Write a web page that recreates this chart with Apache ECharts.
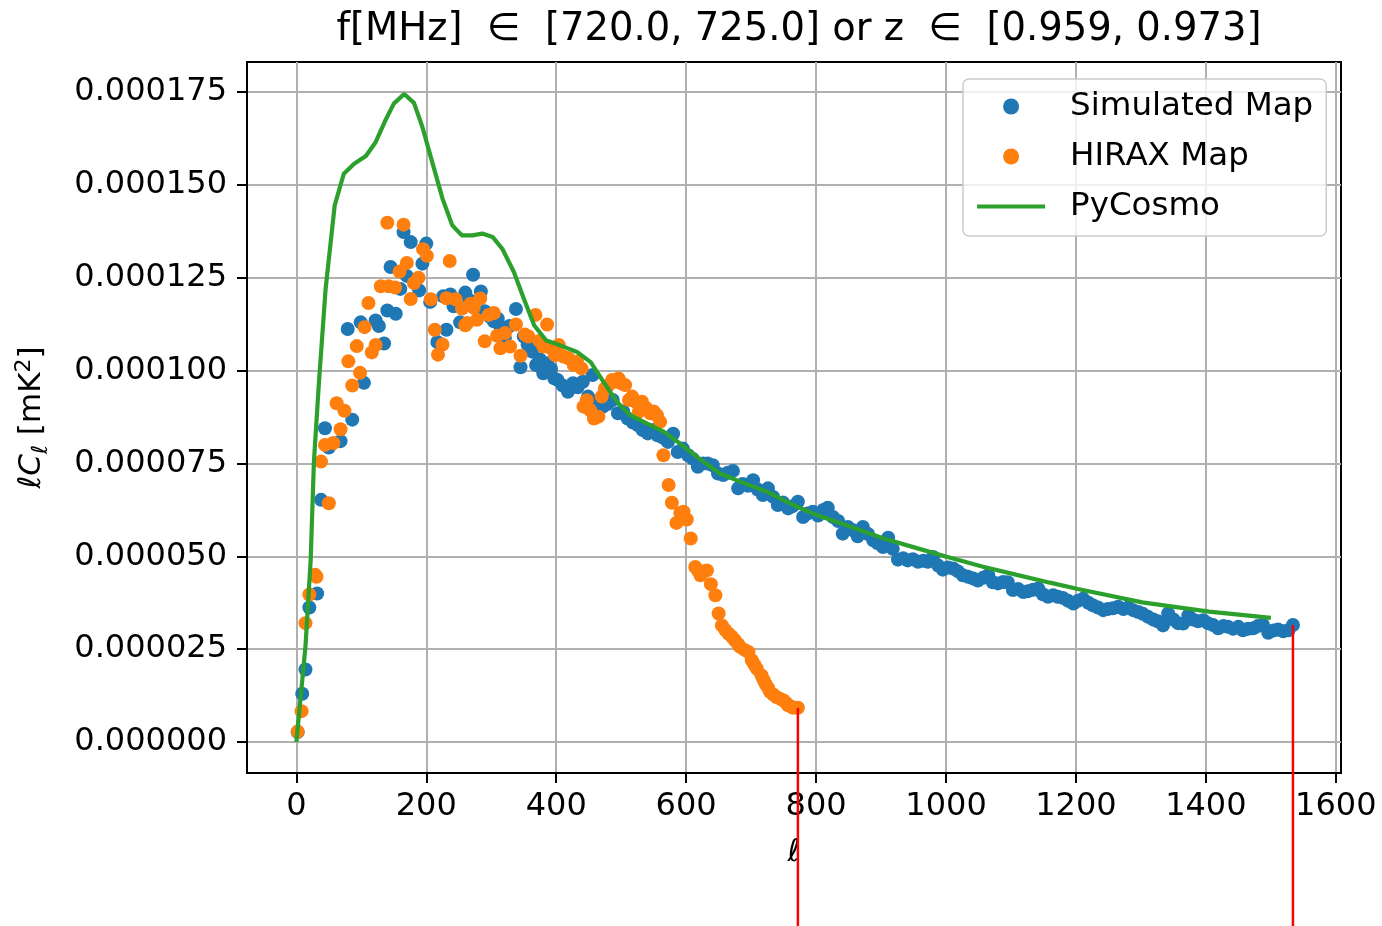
<!DOCTYPE html>
<html>
<head>
<meta charset="utf-8">
<script src="https://cdn.jsdelivr.net/npm/echarts@6/dist/echarts.min.js"></script>
<style>
html, body { margin: 0; padding: 0; background: #fff; }
#main { width: 1382px; height: 926px; }
</style>
</head>
<body>
<div id="main"></div>
<script>
// tick marks (y in units of 1e-5 mK^2)
var xTicks = [0, 200, 400, 600, 800, 1000, 1200, 1400, 1600];
var yTicks = [0, 2.5, 5, 7.5, 10, 12.5, 15, 17.5];

// [ell, ell*C_ell / 1e-5]
var simulatedMap = [
    [2,0.27],[9,1.3],[14,1.95],[20,3.62],[32,4.0],[38,6.52],[44,8.45],[50,7.93],[68,8.1],[79,11.12],
    [86,8.68],[99,11.3],[104,9.67],[122,11.35],[127,11.2],[135,10.73],[140,11.62],[145,12.79],[153,11.53],[160,12.2],
    [165,13.73],[170,12.55],[176,13.46],[189,12.16],[194,12.88],[200,13.42],[206,11.85],[217,10.77],[226,12.0],[231,11.1],
    [237,12.05],[242,11.73],[252,11.3],[260,12.1],[266,11.9],[272,12.58],[284,12.13],[290,11.6],[298,11.45],[304,11.33],
    [310,11.4],[314,11.19],[321,10.88],[328,11.2],[338,11.66],[345,10.09],[350,10.92],[356,10.7],[363,10.51],[369,10.15],
    [375,10.3],[380,9.93],[386,10.2],[392,10.05],[397,9.79],
    [402,9.75],[410,9.6],[418,9.43],[426,9.66],[433,9.55],[441,9.7],[449,9.3],[456,9.88],[464,9.16],[472,9.03],
    [479,9.1],[487,9.21],[495,8.85],[503,8.9],[510,8.71],[518,8.6],[526,8.53],[533,8.4],[541,8.31],[549,8.4],
    [556,8.26],[564,8.2],[572,8.08],[580,8.3],[587,7.81],[595,7.9],[603,7.72],[610,7.63],[618,7.41],[626,7.5],
    [633,7.5],[641,7.45],[649,7.23],[657,7.19],[664,7.25],[672,7.3],[680,6.83],[687,6.95],[695,6.9],[703,7.05],
    [710,6.8],[718,6.65],[726,6.83],[734,6.6],[741,6.38],[749,6.45],[757,6.29],[764,6.35],[772,6.47],[780,6.06],
    [787,6.15],[795,6.2],[803,6.1],[811,6.25],[818,6.31],[826,6.06],[834,5.95],[841,5.61],[849,5.79],[857,5.7],
    [864,5.54],[872,5.79],[880,5.6],[888,5.43],[895,5.35],[903,5.25],[911,5.5],[918,5.2],[926,4.91],[934,4.95],
    [941,4.89],[949,4.92],[957,4.85],[965,4.88],[972,4.85],[980,4.98],[988,4.75],[995,4.64],[1003,4.7],[1011,4.67],
    [1018,4.6],[1026,4.49],[1034,4.45],[1042,4.4],[1049,4.35],[1057,4.42],[1065,4.49],[1072,4.3],[1080,4.27],[1088,4.31],
    [1095,4.3],[1103,4.09],[1111,4.12],[1119,4.04],[1126,4.06],[1134,4.1],[1142,4.13],[1149,3.98],[1157,3.91],[1165,3.95],
    [1172,3.91],[1180,3.88],[1188,3.8],[1196,3.73],[1203,3.8],[1211,3.86],[1219,3.75],[1226,3.68],[1234,3.62],[1242,3.55],
    [1249,3.58],[1257,3.6],[1265,3.64],[1273,3.58],[1280,3.62],[1288,3.55],[1296,3.5],[1303,3.45],[1311,3.37],[1319,3.3],
    [1326,3.25],[1334,3.14],[1342,3.46],[1350,3.3],[1357,3.2],[1365,3.19],[1373,3.41],[1380,3.3],[1388,3.25],[1396,3.28],
    [1403,3.2],[1411,3.15],[1419,3.06],[1427,3.12],[1434,3.1],[1442,3.05],[1450,3.1],[1457,3.01],[1465,3.05],[1473,3.06],
    [1480,3.12],[1488,3.15],[1496,2.94],[1504,3.0],[1511,3.03],[1519,2.98],[1527,3.01],[1534,3.15]
];

var hiraxMap = [
    [2,0.28],[8,0.83],[14,3.2],[20,3.97],[29,4.5],[31,4.45],[38,7.55],[44,8.0],[50,6.43],[57,8.05],
    [62,9.12],[68,8.42],[74,8.92],[80,10.25],[86,9.6],[93,10.66],[98,9.94],[105,11.17],[111,11.82],[116,10.49],
    [122,10.69],[130,12.27],[140,13.98],[142,12.27],[152,12.24],[159,12.67],[165,13.93],[170,12.9],[176,11.93],[181,12.36],
    [188,12.5],[195,13.27],[201,13.09],[207,11.92],[213,11.1],[218,10.43],[225,10.7],[231,11.95],[236,12.95],[245,11.92],
    [255,11.67],[260,11.22],[263,11.28],[268,11.8],[273,11.69],[278,11.37],[283,11.94],[290,10.79],[296,11.5],[304,11.55],
    [309,10.94],[314,10.6],[321,11.01],[329,10.65],[338,11.24],[345,10.4],[352,10.97],[357,10.92],[368,11.5],[374,10.8],
    [380,10.65],[386,11.24],[392,10.6],[398,10.42],[404,10.69],[411,10.38],[419,10.33],[427,10.15],[432,10.24],[439,10.06],
    [442,9.03],[447,9.2],[452,8.94],[458,8.71],[465,8.76],[470,9.3],[475,9.52],[480,9.6],[486,9.75],[491,9.7],
    [496,9.79],[501,9.65],[506,9.61],[512,9.21],[517,9.3],[522,9.16],[527,8.89],[532,9.16],[538,9.0],[545,8.85],
    [550,8.9],[555,8.8],[560,8.62],[565,7.72],[573,6.92],[578,6.44],[585,5.9],[591,6.17],[596,6.2],[601,5.99],
    [607,5.48],[614,4.71],[618,4.62],[622,4.49],[628,4.6],[632,4.62],[638,4.25],[645,3.95],[650,3.46],[655,3.14],
    [660,3.02],[665,2.92],[670,2.84],[675,2.74],[680,2.63],[683,2.56],[690,2.48],[696,2.42],[701,2.2],[705,2.08],
    [709,1.97],[716,1.79],[719,1.68],[722,1.57],[726,1.46],[729,1.35],[734,1.28],[739,1.21],[745,1.16],[750,1.12],
    [754,1.05],[757,0.99],[762,0.95],[765,0.92],[772,0.92]
];

var pyCosmo = [
    [0,0],[14,2.57],[22,4.9],[27,7.54],[35,9.75],[45,12.2],[59,14.45],[73,15.3],[89,15.57],[107,15.78],
    [122,16.15],[136,16.7],[150,17.19],[166,17.45],[181,17.21],[194,16.56],[209,15.62],[225,14.63],[240,13.91],[255,13.64],
    [271,13.64],[286,13.69],[302,13.6],[317,13.28],[335,12.65],[350,11.94],[366,11.22],[384,10.82],[412,10.64],[432,10.5],
    [453,10.23],[473,9.69],[494,9.15],[514,8.8],[540,8.57],[566,8.35],[591,8.03],[617,7.67],[652,7.23],[683,7.01],
    [724,6.74],[765,6.38],[801,6.11],[852,5.8],[904,5.48],[955,5.22],[1001,4.99],[1057,4.72],[1109,4.5],[1160,4.29],
    [1203,4.12],[1302,3.76],[1405,3.51],[1500,3.34]
];

// red markers drop from the last point of each map down past the axis
var dropTo = -5.4;
var hiraxEnd = hiraxMap[hiraxMap.length - 1];
var simEnd = simulatedMap[simulatedMap.length - 1];

var FONT = 'DejaVu Sans';
var chart = echarts.init(document.getElementById('main'));

var option = {
    animation: false,
    backgroundColor: '#fff',
    title: {
        text: 'f[MHz]  \u2208  [720.0, 725.0] or z  \u2208  [0.959, 0.973]',
        left: 794,
        textAlign: 'center',
        top: 5,
        textStyle: { fontFamily: FONT, fontSize: 38.5, fontWeight: 'normal', color: '#000' }
    },
    grid: {
        left: 247, top: 62, right: 41, bottom: 153,
        show: true, borderColor: '#000', borderWidth: 2, backgroundColor: 'transparent'
    },
    legend: {
        orient: 'vertical',
        left: 963, top: 79,
        padding: [11, 13, 13, 12],
        itemWidth: 68, itemHeight: 16, itemGap: 17,
        borderColor: '#cccccc', borderWidth: 1.5, borderRadius: 6,
        backgroundColor: 'rgba(255,255,255,0.8)',
        data: [
            'Simulated Map',
            'HIRAX Map',
            { name: 'PyCosmo', itemStyle: { opacity: 0 }, lineStyle: { width: 4.2, color: '#2ca02c' } }
        ],
        textStyle: { fontFamily: FONT, fontSize: 32.5, color: '#000', lineHeight: 32, padding: [0, 0, 0, 20] }
    },
    xAxis: {
        type: 'value',
        min: -76, max: 1608,
        name: '\u2113',
        nameLocation: 'middle',
        nameGap: 64,
        nameTextStyle: { fontFamily: FONT, fontSize: 31, fontStyle: 'italic', color: '#000' },
        axisLine: { show: true, onZero: false, lineStyle: { color: '#000', width: 2 } },
        axisTick: { show: true, length: 10, customValues: xTicks, lineStyle: { color: '#000', width: 2 } },
        axisLabel: {
            customValues: xTicks, margin: 18, fontFamily: FONT, fontSize: 32, color: '#000',
            formatter: function (v) { return String(v); }
        },
        splitLine: { show: true, lineStyle: { color: '#b0b0b0', width: 2 } }
    },
    yAxis: {
        type: 'value',
        min: -0.835, max: 18.31,
        name: '{i|\u2113C}{sub|\u2113}{n| [mK}{sup|2}{n|]}',
        nameLocation: 'middle',
        nameRotate: 90,
        nameGap: 193,
        nameTextStyle: {
            fontFamily: FONT, fontSize: 31, color: '#000',
            rich: {
                i: { fontFamily: FONT, fontSize: 31, fontStyle: 'italic', lineHeight: 44, verticalAlign: 'middle' },
                sub: { fontFamily: FONT, fontSize: 22, fontStyle: 'italic', lineHeight: 44, verticalAlign: 'bottom', padding: [0, 0, 2, 0] },
                n: { fontFamily: FONT, fontSize: 31, lineHeight: 44, verticalAlign: 'middle' },
                sup: { fontFamily: FONT, fontSize: 22, lineHeight: 44, verticalAlign: 'top', padding: [3, 0, 0, 0] }
            }
        },
        axisLine: { show: true, onZero: false, lineStyle: { color: '#000', width: 2 } },
        axisTick: { show: true, length: 10, customValues: yTicks, lineStyle: { color: '#000', width: 2 } },
        axisLabel: {
            customValues: yTicks, margin: 20, fontFamily: FONT, fontSize: 32, color: '#000',
            formatter: function (v) { return (v * 1e-5).toFixed(6); }
        },
        splitLine: { show: true, lineStyle: { color: '#b0b0b0', width: 2 } }
    },
    series: [
        {
            name: 'Simulated Map',
            type: 'scatter',
            data: simulatedMap,
            symbolSize: 14,
            itemStyle: { color: '#1f77b4', opacity: 1 },
            z: 2
        },
        {
            name: 'HIRAX Map',
            type: 'scatter',
            data: hiraxMap,
            symbolSize: 14,
            itemStyle: { color: '#ff7f0e', opacity: 1 },
            z: 3
        },
        {
            name: 'PyCosmo',
            type: 'line',
            data: pyCosmo,
            symbol: 'none',
            lineStyle: { color: '#2ca02c', width: 4.2 },
            itemStyle: { color: '#2ca02c' },
            z: 4
        },
        {
            name: 'hiraxEdge',
            type: 'line',
            data: [[hiraxEnd[0], hiraxEnd[1]], [hiraxEnd[0], dropTo]],
            symbol: 'none',
            clip: false,
            silent: true,
            lineStyle: { color: '#ff0000', width: 2.5 },
            z: 5
        },
        {
            name: 'simEdge',
            type: 'line',
            data: [[simEnd[0], simEnd[1]], [simEnd[0], dropTo]],
            symbol: 'none',
            clip: false,
            silent: true,
            lineStyle: { color: '#ff0000', width: 2.5 },
            z: 5
        }
    ]
};

chart.setOption(option);
</script>
</body>
</html>
